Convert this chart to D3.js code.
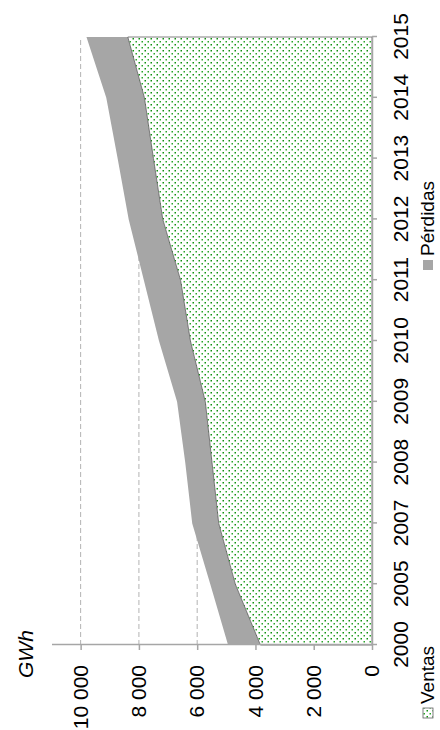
<!DOCTYPE html>
<html>
<head>
<meta charset="utf-8">
<script src="https://cdn.jsdelivr.net/npm/d3@7"></script>
<style>
  html, body { margin: 0; padding: 0; background: #fff; }
  svg { display: block; font-family: "Liberation Sans", Arial, sans-serif; }
</style>
</head>
<body>
<svg id="chart" width="440" height="730"></svg>
<script>
const years = ["2000","2005","2007","2008","2009","2010","2011","2012","2013","2014","2015"];
const ventas = [3830, 4690, 5260, 5490, 5720, 6230, 6570, 7180, 7500, 7810, 8380];
const perdidas = [1110, 860, 910, 920, 970, 1080, 1260, 1170, 1230, 1310, 1420];
const valueTicks = [0, 2000, 4000, 6000, 8000, 10000];
const valueTickLabels = ["0", "2 000", "4 000", "6 000", "8 000", "10 000"];
const seriesNames = ["Ventas", "Pérdidas"];
const unitLabel = "GWh";

const W = 730, H = 440; // unrotated frame
const svg = d3.select("#chart");

const defs = svg.append("defs");
const pat = defs.append("pattern")
  .attr("id", "dots")
  .attr("patternUnits", "userSpaceOnUse")
  .attr("width", 6).attr("height", 6);
pat.append("rect").attr("width", 6).attr("height", 6).attr("fill", "#fff");
pat.append("rect").attr("x", 0.5).attr("y", 0.5).attr("width", 1.5).attr("height", 1.5).attr("fill", "#0f910f");
pat.append("rect").attr("x", 3.5).attr("y", 3.5).attr("width", 1.5).attr("height", 1.5).attr("fill", "#2aa52a");

// rotate whole chart -90deg
const g = svg.append("g").attr("transform", `translate(0,${W}) rotate(-90)`);

const x = d3.scalePoint().domain(years).range([85, 693]);
const y = d3.scaleLinear().domain([0, 11000]).range([372, 51.5]);

const data = years.map((yr, i) => ({year: yr, Ventas: ventas[i], "Pérdidas": perdidas[i]}));
const stacked = d3.stack().keys(seriesNames)(data);

// gridlines
g.append("g").selectAll("line")
  .data(valueTicks.filter(t => t > 0))
  .join("line")
  .attr("x1", x.range()[0]).attr("x2", x.range()[1])
  .attr("y1", d => y(d)).attr("y2", d => y(d))
  .attr("stroke", "#b3b3b3").attr("stroke-width", 1)
  .attr("stroke-dasharray", "5,3");

const area = d3.area()
  .x(d => x(d.data.year))
  .y0(d => y(d[0]))
  .y1(d => y(d[1]));

// Pérdidas
g.append("path").datum(stacked[1])
  .attr("d", area)
  .attr("fill", "#a6a6a6");

// Ventas
g.append("path").datum(stacked[0])
  .attr("d", area)
  .attr("fill", "url(#dots)")
  .attr("stroke", "#555").attr("stroke-width", 0.75);

// value axis (left in unrotated frame)
const yAxis = d3.axisLeft(y)
  .tickValues(valueTicks)
  .tickFormat((d, i) => valueTickLabels[i])
  .tickSize(5).tickSizeOuter(0).tickPadding(15);
const ya = g.append("g").attr("transform", `translate(${x.range()[0]},0)`).call(yAxis);
ya.select(".domain").attr("stroke", "#a6a6a6").attr("stroke-width", 1.5);
ya.selectAll(".tick line").attr("stroke", "#a6a6a6").attr("stroke-width", 1.5);
ya.selectAll(".tick text").attr("font-size", 21).attr("fill", "#000")
  .attr("font-family", "'Liberation Sans', Arial, sans-serif");

// category axis (bottom in unrotated frame)
const xAxis = d3.axisBottom(x).tickSize(5).tickSizeOuter(0).tickPadding(16);
const xa = g.append("g").attr("transform", `translate(0,${y(0)})`).call(xAxis);
xa.select(".domain").attr("stroke", "#a6a6a6").attr("stroke-width", 1.5);
xa.selectAll(".tick line").attr("stroke", "#a6a6a6").attr("stroke-width", 1.5);
xa.selectAll(".tick text").attr("font-size", 21).attr("fill", "#000")
  .attr("font-family", "'Liberation Sans', Arial, sans-serif");

// unit label
g.append("text")
  .attr("x", 52).attr("y", 33)
  .attr("font-size", 21).attr("font-style", "italic")
  .text(unitLabel);

// legend
const legendItems = [
  {name: seriesNames[0], u: 12, fill: "url(#dots)", stroke: "#555"},
  {name: seriesNames[1], u: 460, fill: "#a6a6a6", stroke: "none"}
];
const lg = g.append("g");
legendItems.forEach(it => {
  lg.append("rect")
    .attr("x", it.u).attr("y", 423)
    .attr("width", 10).attr("height", 10)
    .attr("fill", it.fill).attr("stroke", it.stroke).attr("stroke-width", 0.75);
  lg.append("text")
    .attr("x", it.u + 14).attr("y", 434)
    .attr("font-size", 19)
    .text(it.name);
});
</script>
</body>
</html>
